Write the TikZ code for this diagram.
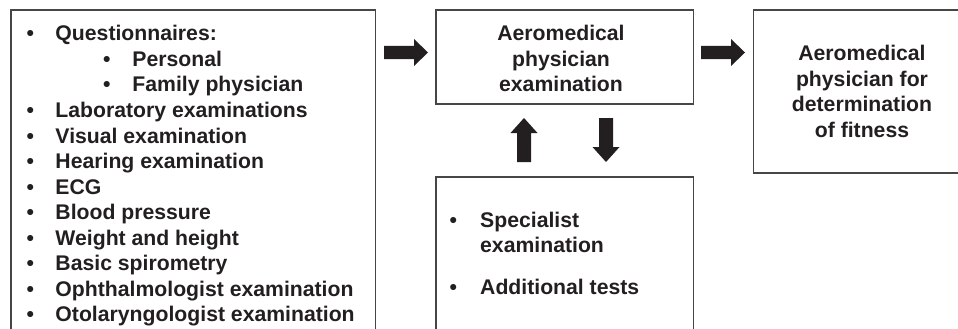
\documentclass[tikz,border=0pt]{standalone}
\usepackage{fontspec}
\setmainfont{Liberation Sans}
\usetikzlibrary{fit}
\definecolor{ink}{RGB}{35,31,32}
\definecolor{framecol}{RGB}{70,70,70}
\newcommand\bul[1]{\makebox[#1][l]{•}}
\begin{document}
\begin{tikzpicture}[x=1pt,y=-1pt,
  box/.style={draw=framecol, line width=1.2pt, inner sep=0pt},
  txt/.style={text=ink, font=\fontsize{21.2}{25.5}\selectfont\bfseries, inner sep=0pt},
  item/.style={txt, anchor=base west},
  blockarrow/.style={fill=ink, draw=none}]
\useasboundingbox (0,0) rectangle (958,329);
\clip (0,0) rectangle (958,329);
% boxes
\node[box, fit={(11,10) (375.5,345)}] (screen) {};
\node[box, fit={(436,10) (693.5,104)}] (ame) {};
\node[box, fit={(436,177) (693.5,345)}] (spec) {};
\node[box, fit={(753.5,10) (971,173)}] (fitness) {};
% left list
\node[item] (q)    at (26.3,41)    {\bul{29pt}Questionnaires:};
\node[item] (qp)   at (103,66.5)   {\bul{29.3pt}Personal};
\node[item] (qf)   at (103,92)     {\bul{29.3pt}Family physician};
\node[item] (lab)  at (26.3,117.5) {\bul{29pt}Laboratory examinations};
\node[item] (vis)  at (26.3,143)   {\bul{29pt}Visual examination};
\node[item] (hear) at (26.3,168.5) {\bul{29pt}Hearing examination};
\node[item] (ecg)  at (26.3,194)   {\bul{29pt}ECG};
\node[item] (bp)   at (26.3,219.5) {\bul{29pt}Blood pressure};
\node[item] (wh)   at (26.3,245)   {\bul{29pt}Weight and height};
\node[item] (spi)  at (26.3,270.5) {\bul{29pt}Basic spirometry};
\node[item] (oph)  at (26.3,296)   {\bul{29pt}Ophthalmologist examination};
\node[item] (oto)  at (26.3,321.5) {\bul{29pt}Otolaryngologist examination};
% middle box text
\node[txt, align=center] (amet) at (561,58.75) {Aeromedical\\physician\\examination};
% right box text
\node[txt, align=center] (fitt) at (862,91.5) {Aeromedical\\physician for\\determination\\of fitness};
% bottom box text
\node[item] (s1) at (449.3,227) {\bul{30.7pt}Specialist};
\node[item] (s2) at (480,252)   {examination};
\node[item] (s3) at (449.3,294) {\bul{30.7pt}Additional tests};
% block arrows
\fill[blockarrow] (384,45.8) -- (414,45.8) -- (414,39) -- (428,52.5) -- (414,66) -- (414,59.2) -- (384,59.2) -- cycle;
\fill[blockarrow] (701,45.8) -- (731,45.8) -- (731,39) -- (745,52.5) -- (731,66) -- (731,59.2) -- (701,59.2) -- cycle;
\fill[blockarrow] (517,162) -- (517,133) -- (510.5,133) -- (524,118) -- (537.5,133) -- (531,133) -- (531,162) -- cycle;
\fill[blockarrow] (599,118) -- (599,147) -- (592.5,147) -- (606,162) -- (619.5,147) -- (613,147) -- (613,118) -- cycle;
\end{tikzpicture}
\end{document}
